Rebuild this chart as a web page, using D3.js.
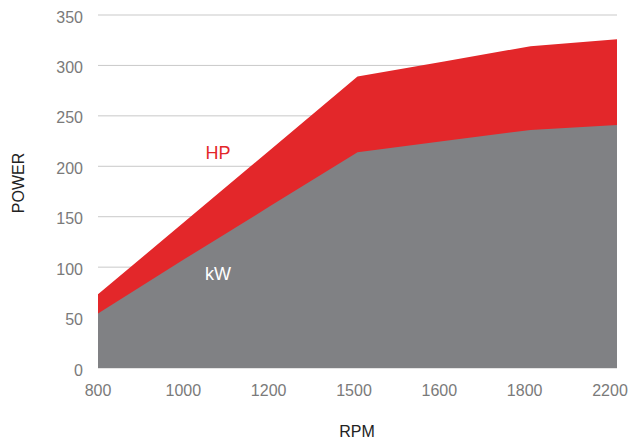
<!DOCTYPE html>
<html>
<head>
<meta charset="utf-8">
<script src="https://cdn.jsdelivr.net/npm/d3@7"></script>
<style>
    body { margin: 0; background: #fff; }
    text { font-family: "Liberation Sans", Arial, sans-serif; }
</style>
</head>
<body>
<div id="chart"></div>
<script>
const rpm = ["800", "1000", "1200", "1500", "1600", "1800", "2200"]
const hp = [73, 145, 217, 289, 304, 319, 326]
const kw = [54, 108, 161, 214, 225, 236, 241]
const yTicks = [0, 50, 100, 150, 200, 250, 300, 350]

const width = 644
const height = 443
const margin = {top: 15, right: 27, bottom: 75, left: 98}

const svg = d3.select("#chart").append("svg")
    .attr("width", width)
    .attr("height", height)

const x = d3.scalePoint()
    .domain(rpm)
    .range([margin.left, width - margin.right])

const y = d3.scaleLinear()
    .domain([0, 350])
    .range([height - margin.bottom, margin.top])

// grid lines
svg.append("g")
    .selectAll("line")
    .data(yTicks)
    .join("line")
        .attr("x1", margin.left)
        .attr("x2", width - margin.right)
        .attr("y1", d => y(d))
        .attr("y2", d => y(d))
        .attr("stroke", "#c9c9c9")
        .attr("stroke-width", 1)

const rows = rpm.map((r, i) => ({rpm: r, hp: hp[i], kw: kw[i]}))

const area = key => d3.area()
    .x(d => x(d.rpm))
    .y0(y(0))
    .y1(d => y(d[key]))

svg.append("path")
    .datum(rows)
    .attr("d", area("hp"))
    .attr("fill", "#e3272a")

svg.append("path")
    .datum(rows)
    .attr("d", area("kw"))
    .attr("fill", "#808184")

// y tick labels
svg.append("g")
    .selectAll("text")
    .data(yTicks)
    .join("text")
        .attr("x", 83)
        .attr("y", d => y(d) + 2)
        .attr("dy", "0.35em")
        .attr("text-anchor", "end")
        .attr("fill", "#7a7a7a")
        .style("font-size", "16px")
        .text(d => d)

// x tick labels, sitting a bit inside the area ends like the original
const xLabel = d3.scalePoint()
    .domain(rpm)
    .range([margin.left, width - margin.right - 7])

svg.append("g")
    .selectAll("text")
    .data(rpm)
    .join("text")
        .attr("x", d => xLabel(d))
        .attr("y", 396)
        .attr("text-anchor", "middle")
        .attr("fill", "#7a7a7a")
        .style("font-size", "16px")
        .text(d => d)

svg.append("text")
    .attr("x", 357)
    .attr("y", 437)
    .attr("text-anchor", "middle")
    .attr("fill", "#222")
    .style("font-size", "16px")
    .text("RPM")

svg.append("text")
    .attr("transform", "translate(24, 183) rotate(-90)")
    .attr("text-anchor", "middle")
    .attr("fill", "#222")
    .style("font-size", "16px")
    .text("POWER")

svg.append("text")
    .attr("x", 218)
    .attr("y", 159)
    .attr("text-anchor", "middle")
    .attr("fill", "#e3272a")
    .style("font-size", "18px")
    .text("HP")

svg.append("text")
    .attr("x", 218)
    .attr("y", 280)
    .attr("text-anchor", "middle")
    .attr("fill", "#ffffff")
    .style("font-size", "18px")
    .text("kW")
</script>
</body>
</html>
